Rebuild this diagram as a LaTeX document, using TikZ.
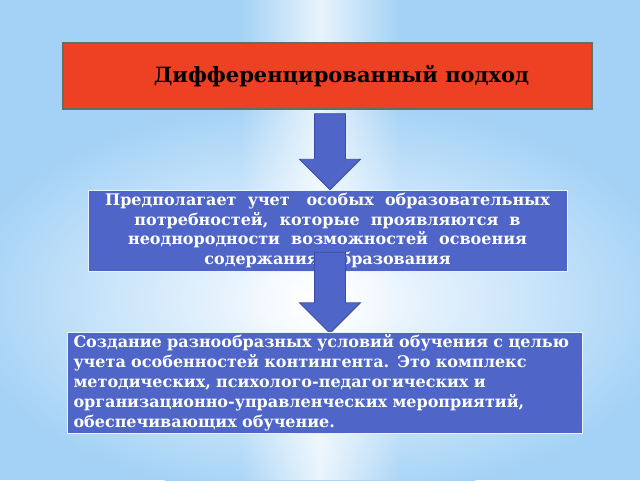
\documentclass[tikz,border=0pt]{standalone}
\usepackage{fontspec}
\setmainfont{DejaVu Serif}
\usetikzlibrary{shapes,arrows,positioning,fadings}
\usepackage{xcolor}
\definecolor{sky}{RGB}{164,210,246}
\definecolor{headred}{RGB}{238,65,36}
\definecolor{headedge}{RGB}{95,112,100}
\definecolor{boxblue}{RGB}{79,102,200}
\definecolor{arrowedge}{RGB}{58,78,165}
\tikzfading[name=midband, left color=transparent!100, right color=transparent!100, middle color=transparent!25]

\begin{document}
\begin{tikzpicture}[x=1pt,y=-1pt]
      \tikzstyle{header} = [rectangle, draw=headedge, line width=1.2pt, fill=headred, minimum width=529pt, minimum height=66pt, inner sep=0pt]
      \tikzstyle{infobox} = [rectangle, draw=white!75!sky, line width=1pt, fill=boxblue, text=white, inner sep=0pt, font=\bfseries\fontsize{16}{19.5}\selectfont]
      \tikzstyle{downarrow} = [single arrow, rotate=-90, draw=arrowedge, fill=boxblue, line width=0.8pt, inner xsep=0pt, inner ysep=15pt, minimum width=60pt, single arrow head extend=15pt, single arrow tip angle=90, single arrow head indent=0pt]

      % background
      \useasboundingbox (0,0) rectangle (640,480);
      \begin{scope}
        \clip (0,0) rectangle (640,480);
        \fill[sky] (0,0) rectangle (640,480);
        \shade[inner color=white, outer color=sky] (320,300) ellipse (360 and 200);
        \fill[white, path fading=midband] (240,0) rectangle (400,480);
      \end{scope}

      \node[header] (head) at (327.5,76) {};
      \node[font=\bfseries\fontsize{21}{25}\selectfont] (title) at (341.5,76) {Дифференцированный подход};

      \node[infobox, minimum width=479pt, minimum height=81pt, align=center] (need) at (327.5,230.5)
        {Предполагает \ учет \ \ особых \ образовательных\\
         потребностей, \ которые \ проявляются \ в\\
         неоднородности \ возможностей \ освоения\\
         содержания \ образования};

      \node[downarrow, minimum height=76pt] (a1) at (330,144) {};
      \node[downarrow, minimum height=81pt] (a2) at (330,285) {};

      \node[infobox, minimum width=515pt, minimum height=101pt, text width=503pt, align=left,
            font=\bfseries\fontsize{16}{20}\selectfont] (create) at (325,382.5)
        {Создание разнообразных условий обучения с целью\\
         учета особенностей контингента. Это комплекс\\
         методических, психолого-педагогических и\\
         организационно-управленческих мероприятий,\\
         обеспечивающих обучение.};
\end{tikzpicture}
\end{document}
